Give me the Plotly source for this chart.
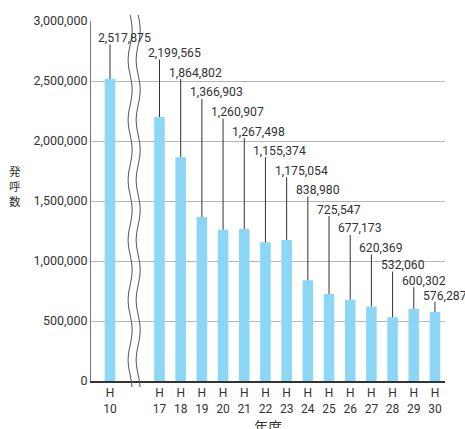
import numpy as np
import plotly.graph_objects as go

# ---- data ----
categories = ["10", "17", "18", "19", "20", "21", "22", "23", "24", "25", "26", "27", "28", "29", "30"]
values = [2517875, 2199565, 1864802, 1366903, 1260907, 1267498, 1155374, 1175054,
          838980, 725547, 677173, 620369, 532060, 600302, 576287]
y_ticks = [0, 500000, 1000000, 1500000, 2000000, 2500000, 3000000]
y_title = "発<br>呼<br>数"
x_title = "年度"

# ---- layout constants ----
W, H = 465, 429
ML, MR, MT, MB = 91, 20, 21, 48
PW, PH = W - ML - MR, H - MT - MB
GAP = 2.336                      # slot offset caused by the axis break
positions = [0.0] + [GAP + i for i in range(len(categories) - 1)]
SLOT = 21.19
XMIN = -(110 - ML) / SLOT
XMAX = XMIN + PW / SLOT
YMAX = 3000000
# vertical centre (px from top) of each staggered value label
label_px = [38, 53, 72.5, 92.5, 112, 131.5, 150.7, 170.7, 190, 209.5, 228.5, 248, 265, 280.7, 295.5]

NUM_FONT = "Roboto, Liberation Sans, sans-serif"
CJK_FONT = "Noto Sans CJK JP"
TXT = "#333333"
BAR = "#8dd7f6"


def px_to_paper_y(py):
    return (H - MB - py) / PH


fig = go.Figure()
fig.add_trace(go.Bar(
    x=positions, y=values, width=0.5,
    marker=dict(color=BAR, line=dict(width=0)),
    hoverinfo="skip",
))

shapes = []
annotations = []
for x, v, lp in zip(positions, values, label_px):
    annotations.append(dict(
        x=x, xref="x", y=px_to_paper_y(lp), yref="paper",
        text=f"{v:,}", showarrow=False, xanchor="left", yanchor="middle",
        xshift=-14, font=dict(family=NUM_FONT, size=12.2, color=TXT),
    ))
    shapes.append(dict(
        type="line", xref="x", yref="y", x0=x, x1=x,
        y0=v, y1=px_to_paper_y(lp + 6.5) * YMAX,
        line=dict(color="#333333", width=1), layer="above",
    ))

# axis-break waves
def wave(xc, top, bottom, amp=2.0, period=60.0):
    pys = np.arange(top, bottom + 0.1, 3.0)
    pts = []
    for py in pys:
        pxx = ML + (xc - XMIN) * SLOT + amp * np.sin(2 * np.pi * (py - top) / period)
        pts.append(((pxx - ML) / PW, px_to_paper_y(py)))
    return pts

left_w = wave(0.95, 15, 388)
right_w = wave(1.33, 15, 388)
fill_path = "M " + " L ".join(f"{a:.5f},{b:.5f}" for a, b in left_w) + " L " + \
    " L ".join(f"{a:.5f},{b:.5f}" for a, b in reversed(right_w)) + " Z"
shapes.append(dict(type="path", xref="paper", yref="paper", path=fill_path,
                   fillcolor="white", line=dict(width=0), layer="between"))
for wv in (left_w, right_w):
    p = "M " + " L ".join(f"{a:.5f},{b:.5f}" for a, b in wv)
    shapes.append(dict(type="path", xref="paper", yref="paper", path=p,
                       line=dict(color="#555555", width=1), layer="above"))

annotations.append(dict(
    x=(15 - ML) / PW, xref="paper", y=px_to_paper_y(186), yref="paper",
    text=y_title, showarrow=False, xanchor="center", yanchor="middle",
    font=dict(family=CJK_FONT, size=11.5, color=TXT),
))
annotations.append(dict(
    x=(268 - ML) / PW, xref="paper", y=px_to_paper_y(426), yref="paper",
    text=x_title, showarrow=False, xanchor="center", yanchor="middle",
    font=dict(family=CJK_FONT, size=14, color=TXT),
))

fig.update_layout(
    width=W, height=H,
    margin=dict(l=ML, r=MR, t=MT, b=MB, pad=0),
    paper_bgcolor="white", plot_bgcolor="white",
    showlegend=False,
    xaxis=dict(
        range=[XMIN, XMAX], showgrid=False, zeroline=False,
        showline=True, linecolor="#333333", linewidth=1.5,
        tickmode="array", tickvals=positions,
        ticktext=[f"H<br>{c}" for c in categories],
        ticks="", tickfont=dict(family=NUM_FONT, size=12, color=TXT),
        fixedrange=True,
    ),
    yaxis=dict(
        range=[0, YMAX], tickmode="array", tickvals=y_ticks, tickformat=",d",
        showgrid=True, gridcolor="#b4b4b4", gridwidth=1, zeroline=False,
        showline=True, linecolor="#777777", linewidth=1,
        ticks="", tickfont=dict(family=NUM_FONT, size=12.5, color=TXT),
        fixedrange=True,
    ),
    shapes=shapes,
    annotations=annotations,
)

fig.write_html("out.html")
